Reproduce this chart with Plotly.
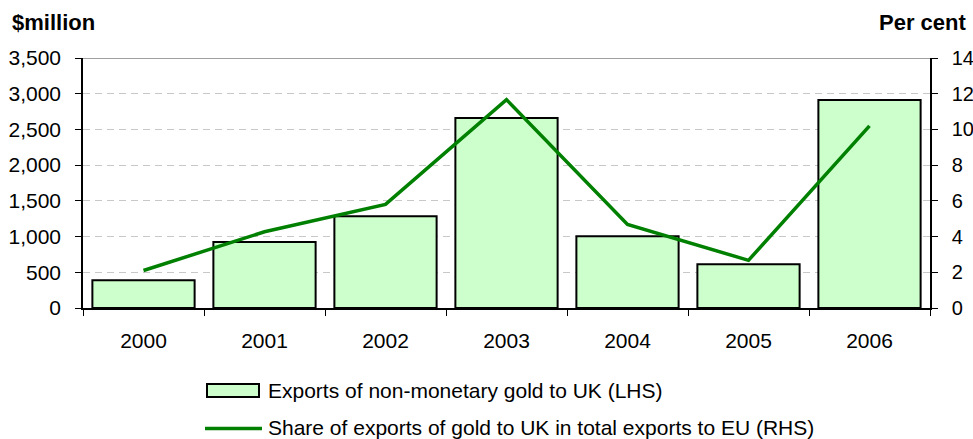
import plotly.graph_objects as go

# Data
years = ["2000", "2001", "2002", "2003", "2004", "2005", "2006"]
gold_exports_musd = [390, 925, 1285, 2660, 1005, 612, 2912]
uk_share_pct = [2.1, 4.27, 5.8, 11.67, 4.68, 2.67, 10.2]

bar_label = "Exports of non-monetary gold to UK (LHS)"
line_label = "Share of exports of gold to UK in total exports to EU (RHS)"

W, H = 973, 439
ML, MR, MT, MB = 83, 43, 58, 131
PW, PH = W - ML - MR, H - MT - MB

FONT = "Liberation Sans, Arial, sans-serif"
BAR_FILL = "#ccffcc"
LINE_GREEN = "#008000"


def px_x(px):
    return (px - ML) / PW


def px_y(py):
    return (H - MB - py) / PH


fig = go.Figure()

fig.add_trace(go.Bar(
    x=years, y=gold_exports_musd, name=bar_label,
    marker=dict(color=BAR_FILL, line=dict(color="black", width=2)),
    showlegend=False, yaxis="y",
))

fig.add_trace(go.Scatter(
    x=years, y=uk_share_pct, name=line_label, mode="lines",
    line=dict(color=LINE_GREEN, width=3.5),
    showlegend=False, yaxis="y2",
))

tick_font = dict(family=FONT, size=21, color="black")
right_tick_font = dict(family=FONT, size=20, color="black")

fig.update_layout(
    width=W, height=H,
    margin=dict(l=ML, r=MR, t=MT, b=MB, pad=0),
    paper_bgcolor="white", plot_bgcolor="white",
    bargap=0.155,
    font=dict(family=FONT, size=21, color="black"),
    xaxis=dict(
        type="category", tickson="boundaries", ticks="outside", ticklen=6,
        tickcolor="black", tickwidth=1, showline=True, linecolor="black",
        linewidth=1.5, showgrid=False, tickfont=tick_font,
        ticklabelstandoff=13, automargin=False,
    ),
    yaxis=dict(
        range=[0, 3500], dtick=500, tickformat=",", ticks="outside",
        ticklen=6, tickcolor="black", showline=True, linecolor="black",
        linewidth=1.5, showgrid=True, gridcolor="#c8c8c8", gridwidth=1,
        griddash="7px,5px", zeroline=False, tickfont=tick_font,
        ticklabelstandoff=10, automargin=False,
    ),
    yaxis2=dict(
        range=[0, 14], dtick=2, overlaying="y", side="right",
        ticks="outside", ticklen=6, tickcolor="black", showline=True,
        linecolor="black", linewidth=1.5, showgrid=False, zeroline=False,
        tickfont=right_tick_font, ticklabelstandoff=10, automargin=False,
    ),
)

shapes = [
    # grey top border of the plot area
    dict(type="line", xref="paper", yref="y", x0=0, x1=1, y0=3500, y1=3500,
         line=dict(color="#808080", width=1.5), layer="below"),
    # legend swatches
    dict(type="rect", xref="paper", yref="paper",
         x0=px_x(207), x1=px_x(259), y0=px_y(397), y1=px_y(384),
         fillcolor=BAR_FILL, line=dict(color="black", width=2)),
    dict(type="line", xref="paper", yref="paper",
         x0=px_x(205), x1=px_x(262), y0=px_y(428.5), y1=px_y(428.5),
         line=dict(color=LINE_GREEN, width=3.5)),
]
fig.update_layout(shapes=shapes)

title_font = dict(family=FONT, size=22, color="black")
legend_font = dict(family=FONT, size=21, color="black")

annotations = [
    dict(text="<b>$million</b>", xref="paper", yref="paper",
         x=px_x(10), y=px_y(22), xanchor="left", yanchor="middle",
         showarrow=False, font=title_font),
    dict(text="<b>Per cent</b>", xref="paper", yref="paper",
         x=px_x(968), y=px_y(22), xanchor="right", yanchor="middle",
         showarrow=False, font=title_font),
    dict(text=bar_label, xref="paper", yref="paper",
         x=px_x(266), y=px_y(390), xanchor="left", yanchor="middle",
         showarrow=False, font=legend_font),
    dict(text=line_label, xref="paper", yref="paper",
         x=px_x(266), y=px_y(427), xanchor="left", yanchor="middle",
         showarrow=False, font=legend_font),
]
fig.update_layout(annotations=annotations)

fig.write_html("out.html")
